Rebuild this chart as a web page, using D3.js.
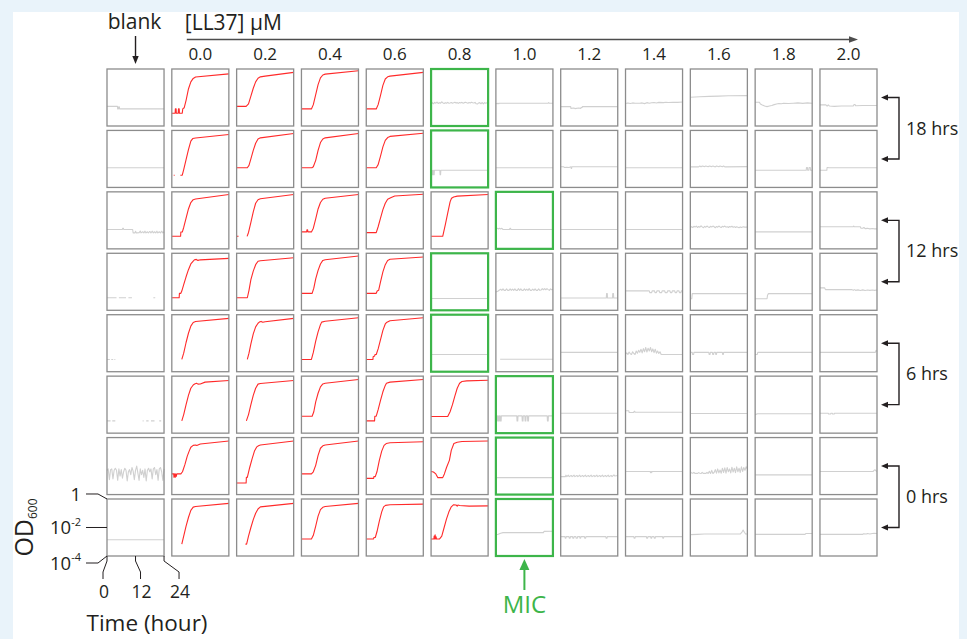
<!DOCTYPE html>
<html>
<head>
<meta charset="utf-8">
<script src="https://cdn.jsdelivr.net/npm/d3@7"></script>
<style>
  body { margin: 0; background: #e9f3fa; }
  svg { display: block; }
  text { font-family: "Open Sans", "Noto Sans", sans-serif; fill: #231f20; }
</style>
</head>
<body>
<svg id="chart" width="967" height="639"></svg>
<script>
// LL37 concentration series (µM) and the blank control column
const concentrations = ["0.0", "0.2", "0.4", "0.6", "0.8", "1.0", "1.2", "1.4", "1.6", "1.8", "2.0"];
const columns = ["blank", ...concentrations];
// pre-exposure times, one label per pair of plate rows
const exposureLabels = ["18 hrs", "12 hrs", "6 hrs", "0 hrs"];
// minimum inhibitory concentration found in each plate row
const micByRow = ["0.8", "0.8", "1.0", "0.8", "0.8", "1.0", "1.0", "1.0"];
// axis key on the bottom-left well
const timeTicks = [0, 12, 24];
const odTicks = [0, -2, -4];

// Growth curves: [time (h), log10 OD600]; null marks a gap in the trace
const plateRow1 = [
  [[0,-2.62],[4.4,-2.62],[4.5,-2.8],[4.8,-2.8],[4.9,-2.66],[5.2,-2.66],[5.3,-2.8],[24,-2.8]],
  [[0,-3.1],[1.4,-3.1],[1.5,-2.8],[1.8,-2.8],[1.9,-3.1],[2.7,-3.1],[2.8,-2.8],[3.1,-2.8],[3.2,-3.1],[4.4,-3.1],[4.6,-2.8],[5.2,-2.72],[6,-2.2],[7,-1.4],[8,-0.9],[9,-0.66],[10,-0.56],[24,-0.34]],
  [[0,-2.62],[4,-2.62],[5,-2.45],[6,-1.9],[7,-1.35],[8,-0.9],[9,-0.65],[10,-0.55],[12,-0.5],[24,-0.24]],
  [[0,-2.8],[4.2,-2.8],[5,-2.5],[6,-1.8],[7,-1.1],[8,-0.62],[9,-0.42],[10,-0.36],[24,-0.12]],
  [[0,-2.8],[4.2,-2.8],[5,-2.5],[6,-1.85],[7,-1.15],[8,-0.7],[9,-0.55],[10,-0.5],[24,-0.24]],
  [[0,-2.48],[0.5,-2.36],[1,-2.44],[1.5,-2.34],[2,-2.4],[2.5,-2.32],[3,-2.42],[3.5,-2.36],[4,-2.4],[4.5,-2.3],[5,-2.38],[5.5,-2.42],[6,-2.36],[6.5,-2.4],[7,-2.34],[7.5,-2.4],[8,-2.38],[8.5,-2.35],[9,-2.4],[9.5,-2.37],[10,-2.33],[10.5,-2.39],[11,-2.36],[11.5,-2.41],[12,-2.35],[12.5,-2.38],[13,-2.34],[13.5,-2.4],[14,-2.36],[14.5,-2.33],[15,-2.37],[15.5,-2.4],[16,-2.35],[16.5,-2.38],[17,-2.33],[17.5,-2.37],[18,-2.39],[18.5,-2.34],[19,-2.44],[19.5,-2.46],[20,-2.38],[20.5,-2.36],[21,-2.44],[21.5,-2.35],[22,-2.45],[22.5,-2.36],[23,-2.4],[23.5,-2.37],[24,-2.4]],
  [[0,-2.42],[0.6,-2.44],[0.8,-2.4],[1.2,-2.44],[1.4,-2.4],[22,-2.4],[22.2,-2.36],[22.5,-2.4],[24,-2.4]],
  [[0,-2.64],[4.2,-2.64],[4.3,-2.76],[5.5,-2.74],[6,-2.78],[7.5,-2.74],[8.5,-2.76],[8.6,-2.7],[9,-2.7],[9.1,-2.64],[24,-2.64]],
  [[0,-2.42],[1,-2.38],[2,-2.42],[3,-2.38],[4,-2.4],[6,-2.4],[7,-2.38],[8,-2.43],[9,-2.36],[10,-2.4],[11,-2.37],[12,-2.35],[13,-2.38],[14,-2.34],[16,-2.36],[17,-2.33],[18,-2.35],[20,-2.33],[22,-2.34],[24,-2.32]],
  [[0,-1.98],[4,-1.95],[8,-1.92],[12,-1.9],[16,-1.88],[24,-1.87]],
  [[0,-2.33],[1.8,-2.33],[2.2,-2.45],[3,-2.52],[4,-2.6],[5,-2.64],[6,-2.6],[7,-2.56],[8,-2.5],[9,-2.46],[10,-2.42],[11,-2.44],[12,-2.4],[14,-2.42],[16,-2.4],[18,-2.38],[20,-2.41],[22,-2.38],[24,-2.4]],
  [[0,-2.52],[2.5,-2.52],[3,-2.6],[3.5,-2.52],[4,-2.6],[6,-2.62],[9,-2.6],[14,-2.6],[14.3,-2.5],[14.8,-2.5],[15,-2.58],[18,-2.56],[24,-2.56]]
];
const plateRow2 = [
  [[0,-2.62],[24,-2.62]],
  [[0.8,-3.14],[1.2,-3.14],[1.3,null],[3.6,-3.14],[4.4,-3.14],[5,-2.75],[6,-2.05],[7,-1.35],[8,-0.75],[8.8,-0.57],[10,-0.53],[24,-0.29]],
  [[0,-2.62],[4.5,-2.62],[5.2,-2.45],[6,-2.0],[7,-1.4],[8,-0.9],[9,-0.6],[10,-0.52],[24,-0.21]],
  [[0,-2.62],[4.4,-2.62],[5,-2.55],[6,-2.1],[7,-1.4],[8,-0.85],[9,-0.6],[10,-0.52],[24,-0.21]],
  [[0,-2.62],[4.2,-2.62],[5,-2.4],[6,-1.8],[7,-1.15],[8,-0.7],[9,-0.5],[10,-0.42],[24,-0.2]],
  [[0,-2.79],[0.4,-2.79],[0.5,-3.1],[0.7,-3.1],[0.8,-2.79],[1.0,-2.79],[1.1,-3.1],[1.3,-3.1],[1.4,-2.79],[3.7,-2.79],[3.8,-3.1],[4.0,-3.1],[4.1,-2.79],[24,-2.79]],
  [[0,-2.62],[24,-2.62]],
  [[0,-2.55],[1.3,-2.55],[1.5,-2.6],[2.5,-2.58],[3.5,-2.6],[4.3,-2.55],[4.4,-2.66],[4.6,-2.66],[4.7,-2.55],[24,-2.55]],
  [[0,-2.62],[24,-2.62]],
  [[0,-2.56],[3.5,-2.56],[4,-2.5],[4.5,-2.56],[5,-2.5],[6,-2.54],[6.5,-2.5],[7.5,-2.55],[8,-2.5],[9,-2.54],[9.5,-2.5],[10.5,-2.56],[11,-2.5],[12,-2.55],[12.5,-2.5],[13.5,-2.55],[14,-2.5],[14.5,-2.56],[24,-2.54]],
  [[0,-2.79],[21.5,-2.79],[21.6,-2.6],[22,-2.6],[22.1,-2.79],[22.6,-2.79],[22.7,-2.6],[23.2,-2.6],[23.3,-2.79],[24,-2.79]],
  [[0,-2.79],[2.9,-2.79],[3,-2.6],[3.5,-2.6],[3.6,-2.62],[24,-2.62]]
];
const plateRow3 = [
  [[0,-2.64],[6.5,-2.64],[6.6,-2.55],[6.9,-2.55],[7,-2.64],[10.8,-2.64],[11,-2.88],[11.8,-2.88],[12,-2.76],[12.4,-2.88],[13.5,-2.86],[14,-2.75],[14.3,-2.88],[15,-2.8],[15.5,-2.88],[16,-2.76],[16.4,-2.88],[17,-2.8],[17.4,-2.88],[18,-2.78],[18.5,-2.88],[19,-2.76],[19.5,-2.88],[20,-2.8],[20.5,-2.88],[21,-2.76],[21.4,-2.88],[22,-2.8],[22.5,-2.88],[23,-2.76],[23.5,-2.88],[24,-2.8]],
  [[0,-3.12],[3.7,-3.12],[3.8,-2.82],[4.4,-2.82],[5,-2.5],[6,-1.85],[7,-1.2],[8,-0.75],[9,-0.55],[10,-0.5],[24,-0.19]],
  [[0,-3.12],[0.8,-3.12],[0.9,null],[4.4,-3.12],[5,-2.85],[6,-2.15],[7,-1.4],[8,-0.8],[9,-0.55],[10,-0.48],[24,-0.19]],
  [[0,-2.81],[2.2,-2.81],[2.3,-2.66],[2.6,-2.66],[2.7,-2.81],[4.2,-2.81],[5,-2.55],[6,-1.9],[7,-1.2],[8,-0.75],[9,-0.52],[10,-0.45],[24,-0.19]],
  [[0,-2.86],[4.2,-2.86],[5,-2.45],[6,-1.85],[7,-1.25],[8,-0.8],[9,-0.52],[10.5,-0.4],[12,-0.29],[24,-0.17]],
  [[0,-3.12],[4.9,-3.12],[6,-2.3],[7,-1.5],[8,-0.7],[8.6,-0.45],[9.5,-0.36],[11,-0.3],[24,-0.19]],
  [[0,-2.6],[0.8,-2.56],[1,-2.6],[1.5,-2.56],[2,-2.6],[2.5,-2.56],[3,-2.64],[5.8,-2.64],[5.9,-2.56],[6.2,-2.56],[6.3,-2.64],[24,-2.64]],
  [[0,-2.64],[24,-2.64]],
  [[0,-2.64],[24,-2.64]],
  [[0,-2.52],[0.5,-2.44],[1,-2.5],[1.5,-2.42],[2,-2.47],[2.5,-2.4],[3,-2.5],[3.5,-2.43],[4,-2.48],[4.5,-2.38],[5,-2.46],[5.5,-2.52],[6,-2.42],[6.5,-2.48],[7,-2.4],[7.5,-2.46],[8,-2.5],[8.5,-2.42],[9,-2.47],[9.5,-2.4],[10,-2.45],[10.5,-2.52],[11,-2.43],[11.5,-2.48],[12,-2.4],[12.5,-2.46],[13,-2.5],[13.5,-2.42],[14,-2.46],[14.5,-2.4],[15,-2.48],[15.5,-2.44],[16,-2.5],[16.5,-2.43],[17,-2.47],[17.5,-2.41],[18,-2.49],[18.5,-2.44],[19,-2.5],[19.5,-2.45],[20,-2.48],[20.5,-2.52],[21,-2.46],[21.5,-2.5],[22,-2.47],[22.5,-2.45],[23,-2.49],[23.5,-2.46],[24,-2.48]],
  [[0,-2.81],[24,-2.81]],
  [[0,-2.45],[14,-2.45],[14.2,-2.4],[14.5,-2.45],[17,-2.45],[17.2,-2.55],[18,-2.55],[18.5,-2.5],[19,-2.58],[20,-2.56],[21,-2.6],[22,-2.57],[23,-2.6],[24,-2.6]]
];
const plateRow4 = [
  [[0,-3.12],[4,-3.12],[4.1,null],[5,-3.12],[8,-3.12],[8.1,null],[9,-3.12],[10.5,-3.12],[10.6,null],[19.5,-3.12],[20.3,-3.12]],
  [[0,-3.12],[3.1,-3.12],[3.2,-2.81],[3.8,-2.81],[4.2,-2.65],[5,-2.2],[6,-1.65],[7,-1.15],[8,-0.75],[9,-0.55],[9.6,-0.45],[10.3,-0.43],[11,-0.5],[12,-0.46],[24,-0.36]],
  [[0,-3.12],[4.5,-3.12],[5.2,-2.6],[6,-1.85],[7,-1.25],[8,-0.8],[9,-0.56],[10,-0.52],[24,-0.31]],
  [[0,-2.81],[4.5,-2.81],[5.2,-2.45],[6,-1.8],[7,-1.2],[8,-0.75],[9,-0.5],[10,-0.45],[24,-0.19]],
  [[0,-2.81],[4.2,-2.81],[4.6,-2.65],[5.2,-2.6],[6,-2.0],[7,-1.3],[8,-0.8],[9,-0.5],[10,-0.42],[24,-0.26]],
  [[0,-3.17],[24,-3.17]],
  [[0,-2.72],[0.8,-2.66],[1.5,-2.58],[2,-2.52],[2.5,-2.6],[3,-2.5],[3.5,-2.6],[4,-2.6],[4.5,-2.5],[5,-2.6],[5.5,-2.6],[6,-2.5],[6.5,-2.6],[7,-2.52],[7.5,-2.6],[8,-2.5],[8.5,-2.6],[9,-2.6],[9.5,-2.48],[10,-2.6],[10.5,-2.5],[11,-2.6],[11.5,-2.6],[12,-2.5],[12.5,-2.6],[13,-2.52],[13.5,-2.6],[14,-2.48],[14.5,-2.6],[15,-2.6],[15.5,-2.52],[16,-2.6],[16.5,-2.5],[17,-2.6],[17.5,-2.6],[18,-2.5],[18.5,-2.6],[19,-2.58],[19.5,-2.48],[20,-2.56],[20.5,-2.48],[21,-2.56],[21.5,-2.48],[22,-2.55],[22.5,-2.6],[23,-2.5],[23.5,-2.56],[24,-2.52]],
  [[0,-3.14],[19.2,-3.14],[19.3,-2.83],[19.6,-2.83],[19.7,-3.14],[21.8,-3.14],[21.9,-2.83],[22.2,-2.83],[22.3,-3.14],[24,-3.14]],
  [[0,-2.64],[10,-2.64],[10.2,-2.76],[11,-2.76],[11.2,-2.64],[12.2,-2.64],[12.4,-2.76],[13,-2.76],[13.2,-2.64],[14.2,-2.64],[14.4,-2.76],[15.2,-2.76],[15.4,-2.64],[16.5,-2.64],[16.7,-2.76],[17.5,-2.76],[17.7,-2.64],[18.7,-2.64],[18.9,-2.76],[19.5,-2.76],[19.7,-2.64],[20.7,-2.64],[20.9,-2.76],[21.5,-2.76],[21.7,-2.64],[22.5,-2.64],[22.7,-2.76],[23.3,-2.76],[23.5,-2.64],[24,-2.64]],
  [[0,-3.19],[0.6,-3.19],[0.8,-2.83],[24,-2.83]],
  [[0,-3.19],[5,-3.19],[5.2,-2.95],[5.6,-2.83],[24,-2.83]],
  [[0,-2.43],[2,-2.43],[2.3,-2.55],[13.5,-2.55],[14,-2.6],[14.5,-2.55],[15,-2.6],[16,-2.57],[17,-2.61],[18,-2.57],[19,-2.61],[20,-2.58],[21,-2.6],[22,-2.58],[23,-2.6],[24,-2.58]]
];
const plateRow5 = [
  [[0,-3.14],[1.2,-3.14],[1.3,null],[1.8,-3.14],[2.6,-3.14],[2.7,null],[3.1,-3.14],[3.5,-3.14]],
  [[4.2,-3.14],[5,-2.7],[6,-1.95],[7,-1.3],[8,-0.8],[9,-0.55],[10,-0.48],[24,-0.26]],
  [[4.5,-3.14],[5.2,-2.7],[6,-2.05],[7,-1.35],[8,-0.85],[9,-0.6],[9.7,-0.5],[10.3,-0.47],[11,-0.53],[12,-0.49],[24,-0.26]],
  [[0,-3.14],[4.2,-3.14],[5,-2.65],[6,-1.85],[7,-1.2],[8,-0.7],[8.5,-0.52],[10,-0.46],[24,-0.21]],
  [[0,-3.14],[2.8,-3.14],[2.9,-2.95],[3.5,-2.9],[3.7,-2.79],[4.2,-2.79],[5,-2.4],[6,-1.75],[7,-1.1],[8,-0.65],[8.5,-0.55],[10,-0.42],[24,-0.21]],
  [[0,-2.79],[24,-2.79]],
  [[1.8,-3.12],[24,-3.12]],
  [[0,-2.64],[24,-2.64]],
  [[0,-2.79],[0.5,-2.68],[1,-2.79],[1.5,-2.62],[2,-2.74],[2.5,-2.79],[3,-2.6],[3.5,-2.72],[4,-2.79],[4.5,-2.55],[5,-2.7],[5.5,-2.5],[6,-2.64],[6.5,-2.42],[7,-2.68],[7.5,-2.38],[8,-2.6],[8.5,-2.3],[9,-2.62],[9.5,-2.35],[10,-2.55],[10.5,-2.3],[11,-2.6],[11.5,-2.4],[12,-2.66],[12.5,-2.42],[13,-2.7],[13.5,-2.55],[14,-2.72],[14.5,-2.6],[15,-2.79],[24,-2.79]],
  [[0,-2.64],[0.8,-2.64],[0.9,-2.79],[1.4,-2.79],[1.5,-2.64],[7.8,-2.64],[7.9,-2.79],[8.3,-2.79],[8.4,-2.64],[9.3,-2.64],[9.4,-2.79],[9.8,-2.79],[9.9,-2.64],[10.6,-2.64],[10.7,-2.79],[11,-2.79],[11.1,-2.64],[13.5,-2.64],[13.6,-2.79],[13.9,-2.79],[14,-2.64],[24,-2.64]],
  [[0,-2.79],[0.9,-2.79],[1.1,-2.64],[24,-2.64]],
  [[0,-2.64],[23.3,-2.64],[23.6,-2.5],[24,-2.58]]
];
const plateRow6 = [
  [[0,-3.14],[1.5,-3.14],[1.6,null],[2.2,-3.14],[3.5,-3.14],[3.6,null],[15,-3.14],[15.4,-3.14],[15.5,null],[16.5,-3.14],[17.5,-3.14],[17.6,null],[18.5,-3.14],[20,-3.14],[20.1,null],[22,-3.14],[22.8,-3.14]],
  [[4.2,-3.14],[5,-2.7],[6,-2.0],[7,-1.35],[8,-0.85],[9,-0.62],[9.6,-0.55],[10.4,-0.5],[11,-0.56],[12,-0.55],[14,-0.42],[24,-0.31]],
  [[4.1,-3.14],[5,-2.7],[6,-2.0],[7,-1.35],[8,-0.85],[9,-0.56],[10,-0.52],[24,-0.31]],
  [[0,-2.81],[4.5,-2.81],[5.2,-2.5],[6,-1.8],[7,-1.2],[8,-0.75],[9,-0.55],[10,-0.5],[24,-0.24]],
  [[0,-3.14],[3.5,-3.14],[3.6,-2.81],[4.2,-2.81],[5,-2.35],[6,-1.7],[7,-1.1],[8,-0.65],[8.5,-0.5],[10,-0.42],[24,-0.24]],
  [[0,-2.83],[7,-2.83],[8,-2.5],[9,-2.0],[10,-1.4],[11,-0.85],[12,-0.5],[13,-0.38],[15,-0.33],[24,-0.29]],
  [[0,-2.79],[0.3,-3.14],[0.6,-3.14],[0.7,-2.79],[1,-2.79],[1.1,-3.14],[1.4,-3.14],[1.5,-2.79],[1.8,-2.79],[1.9,-3.14],[2.2,-3.14],[2.3,-2.79],[8.8,-2.79],[8.9,-3.14],[9.2,-3.14],[9.3,-2.79],[11,-2.79],[11.1,-3.14],[11.4,-3.14],[11.5,-2.79],[12.2,-2.79],[12.3,-3.14],[12.6,-3.14],[12.7,-2.79],[13.3,-2.79],[13.4,-3.14],[13.7,-3.14],[13.8,-2.79],[21.6,-2.79],[21.7,-3.14],[22,-3.14],[22.1,-2.79],[24,-2.79]],
  [[0,-2.6],[24,-2.6]],
  [[0,-2.43],[1.4,-2.43],[1.5,-2.55],[3.5,-2.55],[3.6,-2.47],[3.9,-2.47],[4,-2.53],[24,-2.53]],
  [[0,-2.62],[24,-2.62]],
  [[0,-2.7],[1,-2.64],[24,-2.64]],
  [[0,-2.6],[3.5,-2.6],[3.6,-2.66],[4.5,-2.66],[4.6,-2.6],[5.2,-2.6],[5.3,-2.66],[6,-2.66],[6.1,-2.6],[24,-2.6]]
];
const plateRow7 = [
  [[0,-2.3],[0.5,-2.2],[1,-2.95],[1.5,-2.25],[2,-2.2],[2.5,-2.9],[3,-2.3],[3.5,-2.15],[4,-2.3],[4.5,-3.0],[5,-2.2],[5.5,-2.7],[6,-2.25],[6.5,-2.85],[7,-2.4],[7.5,-2.15],[8,-2.3],[8.5,-3.05],[9,-2.4],[9.5,-2.25],[10,-2.6],[10.5,-2.1],[11,-2.35],[11.5,-2.95],[12,-2.3],[12.5,-2.0],[13,-2.5],[13.5,-3.0],[14,-2.2],[14.5,-2.6],[15,-2.3],[15.5,-2.8],[16,-2.2],[16.5,-3.05],[17,-2.3],[17.5,-2.15],[18,-2.4],[18.5,-2.2],[19,-2.9],[19.5,-2.2],[20,-2.1],[20.5,-2.6],[21,-2.25],[21.5,-3.0],[22,-2.2],[22.5,-2.1],[23,-2.4],[23.5,-3.0],[24,-2.2]],
  [[0,-2.55],[0.8,-2.55],[0.9,-2.78],[1.1,-2.55],[1.4,-2.8],[1.6,-2.55],[1.9,-2.72],[2.1,-2.55],[3.8,-2.55],[4.5,-2.4],[5.5,-1.9],[6.5,-1.3],[7.3,-0.95],[8,-0.68],[9,-0.55],[10,-0.52],[10.5,-0.56],[12,-0.45],[24,-0.24]],
  [[0,-3.19],[4,-3.19],[4.1,-2.79],[4.5,-2.79],[5.5,-2.1],[6.5,-1.5],[7.5,-0.95],[8.5,-0.65],[9.2,-0.57],[10,-0.52],[24,-0.24]],
  [[0,-2.55],[4.2,-2.55],[5,-2.4],[6,-1.95],[7,-1.25],[8,-0.75],[9,-0.58],[10,-0.52],[24,-0.24]],
  [[0,-2.86],[3.1,-2.86],[3.2,-2.74],[3.8,-2.74],[4.5,-2.4],[5.5,-1.6],[6.5,-0.95],[7.5,-0.55],[8.4,-0.42],[10,-0.36],[24,-0.29]],
  [[0,-2.38],[1,-2.42],[2,-2.55],[2.8,-2.81],[4.9,-2.81],[5.6,-2.55],[6.5,-2.1],[7.7,-1.6],[8.5,-0.9],[9.6,-0.42],[11,-0.33],[13,-0.28],[24,-0.24]],
  [[0,-2.81],[24,-2.81]],
  [[0,-2.74],[2,-2.74],[2.2,-2.64],[2.6,-2.74],[3.2,-2.64],[3.6,-2.74],[4.4,-2.66],[4.8,-2.74],[5.6,-2.64],[6,-2.74],[6.8,-2.66],[7.2,-2.74],[8,-2.64],[8.4,-2.74],[9.2,-2.66],[9.6,-2.74],[10.4,-2.64],[10.8,-2.74],[11.6,-2.66],[12,-2.74],[12.8,-2.64],[13.2,-2.74],[14,-2.66],[14.4,-2.74],[15.2,-2.64],[15.6,-2.74],[16.4,-2.66],[16.8,-2.74],[17.6,-2.64],[18,-2.74],[18.8,-2.66],[19.2,-2.74],[20,-2.64],[20.4,-2.74],[21.2,-2.66],[21.6,-2.74],[22.4,-2.62],[22.8,-2.7],[24,-2.66]],
  [[0,-2.38],[10.4,-2.38],[10.5,-2.46],[10.8,-2.38],[11,-2.46],[11.2,-2.38],[24,-2.38]],
  [[0,-2.4],[0.5,-2.48],[1,-2.5],[1.5,-2.44],[2,-2.52],[2.5,-2.5],[3,-2.52],[3.5,-2.46],[4,-2.5],[4.5,-2.52],[5,-2.44],[5.5,-2.52],[6,-2.5],[6.5,-2.52],[7,-2.44],[7.5,-2.52],[8,-2.36],[8.5,-2.52],[9,-2.3],[9.5,-2.52],[10,-2.45],[10.5,-2.25],[11,-2.5],[11.5,-2.2],[12,-2.48],[12.5,-2.28],[13,-2.5],[13.5,-2.15],[14,-2.45],[14.5,-2.12],[15,-2.5],[15.5,-2.1],[16,-2.4],[16.5,-2.2],[17,-2.48],[17.5,-2.08],[18,-2.42],[18.5,-2.15],[19,-2.46],[19.5,-2.05],[20,-2.4],[20.5,-2.15],[21,-2.45],[21.5,-2.05],[22,-2.38],[22.5,-2.1],[23,-2.3],[23.5,-2.05],[24,-2.2]],
  [[0,-2.62],[24,-2.62]],
  [[0,-2.38],[22.3,-2.38],[22.8,-2.3],[23.2,-2.26],[23.6,-2.34],[24,-2.36]]
];
const plateRow8 = [
  [[0,-2.86],[24,-2.86]],
  [[4.2,-3.17],[5,-2.6],[6,-1.9],[7,-1.3],[8,-0.8],[9,-0.57],[10,-0.53],[24,-0.31]],
  [[3.7,-3.17],[4.2,-3.17],[5,-2.6],[6,-2.0],[7,-1.45],[8,-1.0],[9,-0.7],[10,-0.55],[24,-0.31]],
  [[0,-2.81],[4.2,-2.81],[5,-2.55],[6,-1.9],[7,-1.2],[8,-0.75],[9,-0.58],[10,-0.53],[24,-0.31]],
  [[0,-2.81],[3.1,-2.81],[3.2,-2.7],[3.8,-2.7],[4.5,-2.3],[5.5,-1.55],[6.5,-0.9],[7.3,-0.55],[8.1,-0.45],[10,-0.4],[24,-0.36]],
  [[0,-2.81],[1.2,-2.81],[1.3,-2.6],[1.5,-2.81],[1.7,-2.52],[1.9,-2.81],[2.1,-2.65],[2.3,-2.81],[3.5,-2.81],[4.5,-2.6],[5.5,-2.0],[6.5,-1.4],[7.5,-0.9],[8.5,-0.55],[9.5,-0.4],[10.5,-0.42],[11,-0.5],[11.3,-0.42],[12,-0.46],[16,-0.5],[24,-0.48]],
  [[0,-2.52],[1,-2.48],[2,-2.4],[3,-2.36],[20,-2.36],[20.3,-2.27],[24,-2.26]],
  [[0,-2.64],[1.8,-2.64],[1.9,-2.75],[2.2,-2.75],[2.3,-2.64],[3.5,-2.64],[3.6,-2.75],[4,-2.75],[4.1,-2.64],[5,-2.64],[5.1,-2.75],[5.5,-2.75],[5.6,-2.64],[6.4,-2.64],[6.5,-2.75],[7,-2.75],[7.1,-2.64],[8,-2.64],[8.1,-2.75],[8.4,-2.75],[8.5,-2.64],[10,-2.64],[10.1,-2.75],[10.5,-2.75],[10.6,-2.64],[19,-2.64],[19.1,-2.75],[19.5,-2.75],[19.6,-2.64],[24,-2.64]],
  [[0,-2.64],[3.5,-2.64],[3.6,-2.75],[4,-2.75],[4.1,-2.64],[8.8,-2.64],[8.9,-2.75],[9.3,-2.75],[9.4,-2.64],[10.6,-2.64],[10.7,-2.75],[11,-2.75],[11.1,-2.64],[12,-2.64],[12.1,-2.75],[12.5,-2.75],[12.6,-2.64],[15.6,-2.64],[15.7,-2.75],[16,-2.75],[16.1,-2.64],[24,-2.64]],
  [[0,-2.5],[3,-2.48],[6,-2.46],[21,-2.46],[21.8,-2.3],[22.2,-2.18],[22.8,-2.35],[23.3,-2.46],[24,-2.46]],
  [[0,-2.48],[21,-2.48],[21.3,-2.42],[24,-2.42]],
  [[0,-2.48],[18,-2.48],[18.3,-2.44],[19.5,-2.46],[20,-2.42],[21,-2.46],[22,-2.42],[22.8,-2.4],[24,-2.42]]
];
const plateRows = [plateRow1, plateRow2, plateRow3, plateRow4, plateRow5, plateRow6, plateRow7, plateRow8];

// ---- layout ----
const W = 967, H = 639;
const ink = "#231f20", green = "#3db54a", growthRed = "#ff2a2a", noGrowth = "#d0d0d0", frame = "#8c8c8c";

const svg = d3.select("#chart");
svg.append("rect").attr("x", 13).attr("y", 12).attr("width", 946).attr("height", H - 12).attr("fill", "#fff");

const col = d3.scaleBand().domain(columns).range([107, 877]).paddingInner(0.12);
const row = d3.scaleBand().domain(d3.range(plateRows.length)).range([69, 556]).paddingInner(0.072);
const cw = col.bandwidth(), ch = row.bandwidth();
const t = d3.scaleLinear().domain([0, 24]).range([0, cw]);
const od = d3.scaleLinear().domain([-4, 0]).range([ch, 0]);
const trace = d3.line().defined(d => d[1] !== null).x(d => t(d[0])).y(d => od(d[1]));

const wells = [];
plateRows.forEach((curves, r) => curves.forEach((pts, c) => wells.push({ r, c, name: columns[c], pts })));
const grew = d => d3.max(d.pts, p => p[1]) > -1.5;

const g = svg.append("g");
const well = g.selectAll("g.well").data(wells).join("g")
  .attr("class", "well")
  .attr("transform", d => `translate(${col(d.name)},${row(d.r)})`);

well.append("path")
  .attr("d", d => trace(d.pts))
  .attr("fill", "none")
  .attr("stroke", d => grew(d) ? growthRed : noGrowth)
  .attr("stroke-width", 1.1)
  .attr("stroke-linejoin", "round");

well.append("rect")
  .attr("width", cw).attr("height", ch)
  .attr("fill", "none")
  .attr("stroke", d => micByRow[d.r] === d.name ? green : frame)
  .attr("stroke-width", d => micByRow[d.r] === d.name ? 2.2 : 1.3);

// ---- arrowhead helper ----
function head(x, y, angle, len, half, color) {
  const a = angle * Math.PI / 180;
  const bx = x - len * Math.cos(a), by = y - len * Math.sin(a);
  const px = -Math.sin(a) * half, py = Math.cos(a) * half;
  svg.append("path")
    .attr("d", `M${x},${y}L${bx + px},${by + py}L${bx - px},${by - py}Z`)
    .attr("fill", color);
}

// column header: blank + concentration arrow
const blankX = col("blank") + cw / 2;
svg.append("text").attr("x", blankX - 1).attr("y", 29).attr("text-anchor", "middle")
  .attr("font-size", 21).text("blank");
svg.append("line").attr("x1", blankX).attr("x2", blankX).attr("y1", 36).attr("y2", 58)
  .attr("stroke", ink).attr("stroke-width", 1.4);
head(blankX, 64, 90, 8, 3.2, ink);

svg.append("text").attr("x", col("0.0") + 13).attr("y", 30)
  .attr("font-size", 21).text("[LL37] μM");
svg.append("line").attr("x1", col("0.0") + 15).attr("x2", 850).attr("y1", 39.5).attr("y2", 39.5)
  .attr("stroke", "#4d4d4d").attr("stroke-width", 1.6);
head(858, 39.5, 0, 9, 3.2, "#4d4d4d");

svg.selectAll("text.conc").data(concentrations).join("text")
  .attr("class", "conc")
  .attr("x", d => col(d) + cw / 2).attr("y", 60)
  .attr("text-anchor", "middle").attr("font-size", 17).text(d => d);

// exposure-time brackets on the right
const bx0 = 881, bx1 = 899;
exposureLabels.forEach((lab, i) => {
  const y1 = row(2 * i) + ch / 2, y2 = row(2 * i + 1) + ch / 2;
  svg.append("path")
    .attr("d", `M${bx0 + 6},${y1}H${bx1}V${y2}H${bx0 + 6}`)
    .attr("fill", "none").attr("stroke", ink).attr("stroke-width", 1.4);
  head(bx0, y1, 180, 7, 3, ink);
  head(bx0, y2, 180, 7, 3, ink);
  svg.append("text").attr("x", 906).attr("y", (y1 + y2) / 2)
    .attr("dy", "0.35em").attr("font-size", 18).text(lab);
});

// MIC marker under the 1.0 µM column
const micX = col("1.0") + cw / 2;
svg.append("line").attr("x1", micX).attr("x2", micX).attr("y1", 568).attr("y2", 590)
  .attr("stroke", green).attr("stroke-width", 2);
head(micX, 559, -90, 11, 5, green);
svg.append("text").attr("x", micX).attr("y", 613).attr("text-anchor", "middle")
  .attr("font-size", 24).style("fill", green).text("MIC");

// axis key on the bottom-left (blank) well
const keyX = col("blank"), keyY = row(plateRows.length - 1);
const odLabelDy = { "0": -5, "-2": 0, "-4": 7 };
odTicks.forEach(v => {
  const ty = keyY + od(v), ly = ty + odLabelDy[v];
  svg.append("path")
    .attr("d", `M${keyX},${ty}L${keyX - 9},${ly}H${keyX - 21}`)
    .attr("fill", "none").attr("stroke", ink).attr("stroke-width", 1);
  const txt = svg.append("text").attr("x", keyX - 26).attr("y", ly).attr("dy", "0.36em")
    .attr("text-anchor", "end").attr("font-size", 18.5);
  if (v === 0) txt.text("1");
  else {
    txt.append("tspan").text("10");
    txt.append("tspan").attr("font-size", 11).attr("dy", "-0.75em").text(String(v));
  }
});

const tickLabelDx = { 0: -4, 12: 5, 24: 15 };
timeTicks.forEach(v => {
  const tx = keyX + t(v), lx = tx + tickLabelDx[v];
  svg.append("path")
    .attr("d", `M${tx},${keyY + ch}V${keyY + ch + 5}L${lx},${keyY + ch + 16}V${keyY + ch + 23}`)
    .attr("fill", "none").attr("stroke", ink).attr("stroke-width", 1);
  svg.append("text").attr("x", lx + 1).attr("y", 598).attr("text-anchor", "middle")
    .attr("font-size", 17.5).text(v);
});

svg.append("text").attr("x", 147).attr("y", 631).attr("text-anchor", "middle")
  .attr("font-size", 22.5).text("Time (hour)");

const odLabel = svg.append("text")
  .attr("transform", `translate(33,${keyY + ch / 2}) rotate(-90)`)
  .attr("text-anchor", "middle").attr("font-size", 25);
odLabel.append("tspan").text("OD");
odLabel.append("tspan").attr("font-size", 12).attr("dy", "0.3em").text("600");
</script>
</body>
</html>
